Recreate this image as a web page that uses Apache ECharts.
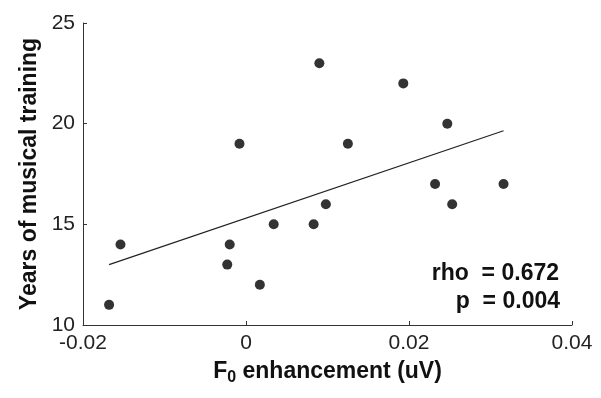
<!DOCTYPE html>
<html>
<head>
<meta charset="utf-8">
<script src="https://cdn.jsdelivr.net/npm/echarts@6/dist/echarts.min.js"></script>
<style>
  html, body { margin: 0; padding: 0; background: #fff; }
  #chart { width: 601px; height: 398px; }
</style>
</head>
<body>
<div id="chart"></div>
<script>
  // data
  const f0Enhancement = [-0.0168, -0.0154, -0.0020, -0.0023, 0.0017, 0.0034, -0.0008, 0.0090,
    0.0193, 0.0247, 0.0125, 0.0232, 0.0316, 0.0098, 0.0253, 0.0083];
  const yearsTraining = [11, 14, 14, 13, 12, 15, 19, 23, 22, 20, 19, 17, 17, 16, 16, 15];
  const fitX = [-0.0168, 0.0316];
  const fitY = [13.0, 19.65];
  const xTicks = [-0.02, 0, 0.02, 0.04];
  const yTicks = [10, 15, 20, 25];
  const rho = "0.672";
  const pValue = "0.004";

  const font = "'Liberation Sans', Arial, sans-serif";
  const chart = echarts.init(document.getElementById("chart"));

  const option = {
    animation: false,
    grid: { left: 83, right: 29, top: 23, bottom: 73 },
    xAxis: {
      type: "value",
      min: xTicks[0],
      max: xTicks[xTicks.length - 1],
      interval: 0.02,
      name: "{b|F}{s|0}{b| enhancement (uV)}",
      nameLocation: "middle",
      nameGap: 33,
      nameTextStyle: {
        rich: {
          b: { fontFamily: font, fontWeight: "bold", fontSize: 23, color: "#111" },
          s: { fontFamily: font, fontWeight: "bold", fontSize: 16, color: "#111", padding: [12, 0, 0, 0] }
        }
      },
      axisLine: { onZero: false, lineStyle: { color: "#333", width: 1 } },
      axisTick: { inside: true, length: 4, lineStyle: { color: "#333" } },
      axisLabel: {
        fontFamily: font, fontSize: 21, color: "#222", margin: 8,
        formatter: v => (v === 0 ? "0" : String(+v.toFixed(2)))
      },
      splitLine: { show: false }
    },
    yAxis: {
      type: "value",
      min: yTicks[0],
      max: yTicks[yTicks.length - 1],
      interval: 5,
      name: "Years of musical training",
      nameLocation: "middle",
      nameGap: 39,
      nameTextStyle: { fontFamily: font, fontWeight: "bold", fontSize: 23, color: "#111" },
      axisLine: { show: true, onZero: false, lineStyle: { color: "#333", width: 1 } },
      axisTick: { show: true, inside: true, length: 4, lineStyle: { color: "#333" } },
      axisLabel: { fontFamily: font, fontSize: 21, color: "#222", margin: 8 },
      splitLine: { show: false }
    },
    series: [
      {
        type: "scatter",
        symbol: "circle",
        symbolSize: 10,
        itemStyle: { color: "#000" },
        data: f0Enhancement.map((x, i) => [x, yearsTraining[i]])
      },
      {
        type: "line",
        symbol: "none",
        lineStyle: { color: "#222", width: 1.2 },
        data: fitX.map((x, i) => [x, fitY[i]])
      }
    ],
    graphic: [
      {
        type: "text", right: 42, top: 262,
        style: { text: "rho  = " + rho, font: "bold 23px " + font, fill: "#111", textAlign: "right" }
      },
      {
        type: "text", right: 41, top: 290,
        style: { text: "p  = " + pValue, font: "bold 23px " + font, fill: "#111", textAlign: "right" }
      }
    ]
  };

  chart.setOption(option);
</script>
</body>
</html>
